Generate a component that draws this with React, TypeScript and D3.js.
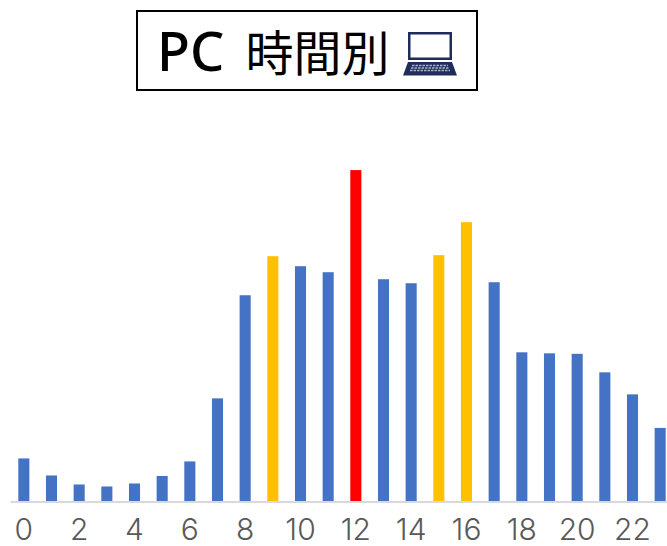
import * as React from 'react'
import * as d3 from 'd3'

const width = 667
const height = 546
const margin = { top: 100, right: -7, bottom: 44.5, left: 10 }
const blue = '#4472c4'
const yellow = '#ffc000'
const red = '#ff0000'
const navy = '#1f2c5c'

const hours = d3.range(0, 24).map(String)
const accessCounts = [43, 26, 17, 15, 18, 25.5, 40, 103, 206, 245, 235, 229, 331, 222, 218, 246, 279, 219, 149, 148, 147.5, 129, 107, 73.5]
const yellowHours = ['9', '15', '16']
const redHours = ['12']
const tickLabels = ['0', '2', '4', '6', '8', '10', '12', '14', '16', '18', '20', '22']

const barColor = (h: string) => {
  if (redHours.includes(h)) return red
  if (yellowHours.includes(h)) return yellow
  return blue
}

const App = () => {
  const xScale = d3
    .scaleBand()
    .domain(hours)
    .range([margin.left, width - margin.right])
    .paddingInner(0.6)
    .paddingOuter(0.3)
  const yScale = d3
    .scaleLinear()
    .domain([0, 401])
    .range([height - margin.bottom, margin.top])

  const xRef = React.useRef(null)

  React.useEffect(() => {
    const axis = d3.axisBottom(xScale).tickValues(tickLabels).tickSize(0).tickPadding(17)
    const g = d3.select(xRef.current).call(axis as any)
    g.select('.domain').attr('stroke', '#d9d9d9').attr('stroke-width', 2)
    g.selectAll('text')
      .attr('fill', '#595959')
      .attr('font-size', 30)
      .attr('font-family', 'Inter, sans-serif')
      .attr('font-weight', 300)
  }, [])

  return (
    <svg
      width={width}
      height={height}
      style={{ position: 'absolute', left: 0, top: 0, background: '#fff' }}
    >
      <rect x={137} y={11} width={340} height={79} fill="#fff" stroke="#000" strokeWidth={2} />
      <text x={157} y={71} fontSize={54} fill="#000" fontFamily={'"Noto Sans", sans-serif'} fontWeight={500}>
        PC
      </text>
      <text x={245.5} y={71} fontSize={48} fill="#000" fontFamily={'"Noto Sans CJK JP", sans-serif'}>
        時間別
      </text>
      {/* laptop icon */}
      <g transform="translate(403, 32)" fill={navy}>
        <path d="M5 0H49V28H5ZM7.5 2.5V25.5H46.5V2.5Z" fillRule="evenodd" />
        <path d="M5 30H49L54 43.6H0Z" />
        <path d="M9 33.5H45M8 36H46M7 38.5H47" fill="none" stroke="#aab2c8" strokeWidth={1.6} strokeDasharray="2.5 1" />
      </g>
      {hours.map(h => (
        <rect
          key={h}
          x={xScale(h)}
          y={yScale(accessCounts[+h])}
          width={xScale.bandwidth()}
          height={yScale(0) - yScale(accessCounts[+h])}
          fill={barColor(h)}
        />
      ))}
      <g ref={xRef} transform={`translate(0, ${height - margin.bottom})`} />
    </svg>
  )
}

export default App
